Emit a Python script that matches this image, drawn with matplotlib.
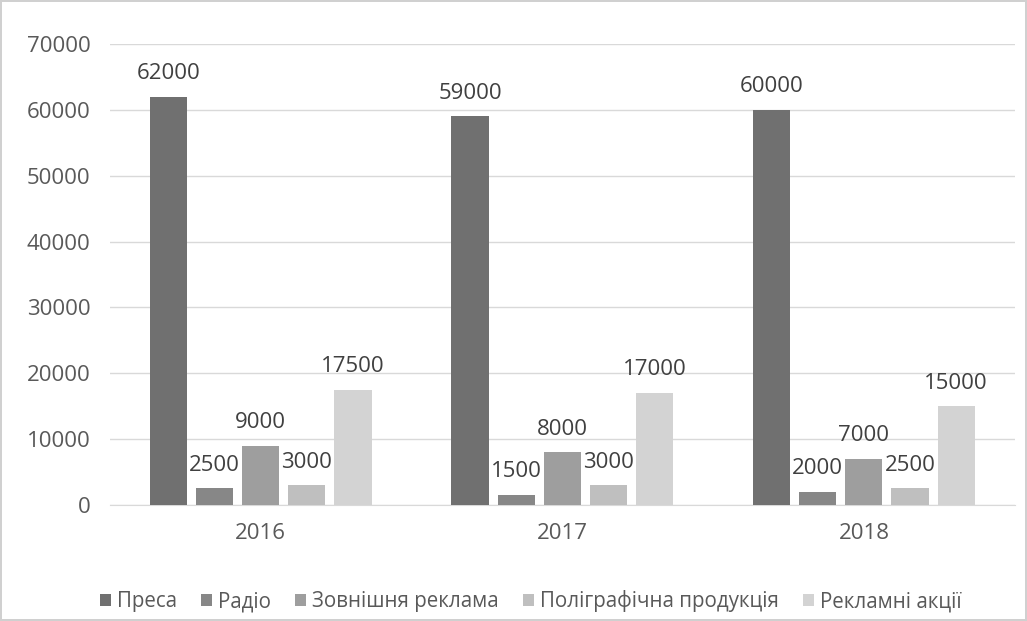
import matplotlib.pyplot as plt
import numpy as np

years = ["2016", "2017", "2018"]
series_names = ["Преса", "Радіо", "Зовнішня реклама", "Поліграфічна продукція", "Рекламні акції"]
presa = [62000, 59000, 60000]
radio = [2500, 1500, 2000]
outdoor = [9000, 8000, 7000]
printing = [3000, 3000, 2500]
promo = [17500, 17000, 15000]
yticks = [0, 10000, 20000, 30000, 40000, 50000, 60000, 70000]

colors = ["#707070", "#878787", "#9e9e9e", "#bfbfbf", "#d3d3d3"]

plt.rcParams["font.family"] = ["Open Sans", "DejaVu Sans"]

fig = plt.figure(figsize=(10.27, 6.21), dpi=100)
fig.patch.set_edgecolor("#d0d0d0")
fig.patch.set_linewidth(1.5)
ax = fig.add_axes([0.107, 0.187, 0.881, 0.742])

x = np.arange(len(years))
width = 0.123
step = 0.153
all_series = [presa, radio, outdoor, printing, promo]
for i, (vals, name, c) in enumerate(zip(all_series, series_names, colors)):
    pos = x + (i - 2) * step
    bars = ax.bar(pos, vals, width, color=c, label=name, zorder=3)
    for b, v in zip(bars, vals):
        ax.text(b.get_x() + b.get_width() / 2, v + 1900, str(v),
                ha="center", va="bottom", fontsize=16, color="#404040")

ax.set_xlim(-0.5, 2.5)
ax.set_ylim(0, 70000)
ax.set_yticks(yticks)
ax.set_yticklabels([str(t) for t in yticks])
ax.set_xticks(x)
ax.set_xticklabels(years)
ax.tick_params(axis="both", length=0, labelsize=16, labelcolor="#595959")
ax.tick_params(axis="y", pad=14)
ax.tick_params(axis="x", pad=13)
ax.grid(axis="y", color="#d9d9d9", linewidth=1, zorder=0)
for name, spine in ax.spines.items():
    spine.set_visible(name == "bottom")
ax.spines["bottom"].set_color("#d9d9d9")

ax.legend(loc="upper center", bbox_to_anchor=(0.465, -0.145), ncol=5, frameon=False,
          fontsize=14.8, handlelength=0.55, handleheight=0.55, handletextpad=0.3,
          columnspacing=1.15, labelcolor="#595959")

fig.savefig("out.png", dpi=100)
